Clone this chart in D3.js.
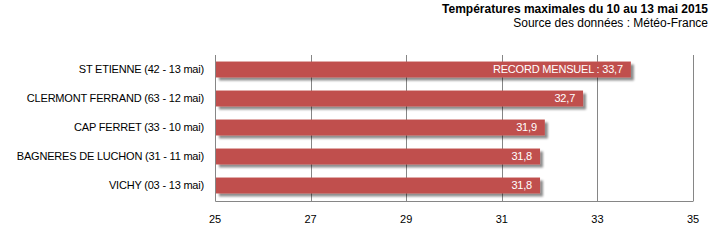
<!DOCTYPE html>
<html>
<head>
<meta charset="utf-8">
<script src="https://cdn.jsdelivr.net/npm/d3@7"></script>
<style>
  body { margin: 0; background: #fff; }
  svg { display: block; font-family: "Liberation Sans", Arial, sans-serif; }
</style>
</head>
<body>
<div id="chart"></div>
<script>
// Data
const stations = [
    'ST ETIENNE (42 - 13 mai)',
    'CLERMONT FERRAND (63 - 12 mai)',
    'CAP FERRET (33 - 10 mai)',
    'BAGNERES DE LUCHON (31 - 11 mai)',
    'VICHY (03 - 13 mai)'
];
const temps = [33.7, 32.7, 31.9, 31.8, 31.8];
const valueLabels = ['RECORD MENSUEL : 33,7', '32,7', '31,9', '31,8', '31,8'];
const xTicks = [25, 27, 29, 31, 33, 35];

const width = 715, height = 241;
const margin = { top: 55, right: 22, bottom: 40, left: 215 };

const svg = d3.select('#chart').append('svg')
    .attr('width', width)
    .attr('height', height);

// Shadow filter for bars
const defs = svg.append('defs');
const filter = defs.append('filter').attr('id', 'shadow')
    .attr('x', '-5%').attr('y', '-30%').attr('width', '115%').attr('height', '180%');
filter.append('feGaussianBlur').attr('in', 'SourceAlpha').attr('stdDeviation', 1.3).attr('result', 'blur');
filter.append('feOffset').attr('in', 'blur').attr('dx', 3).attr('dy', 3).attr('result', 'off');
filter.append('feComponentTransfer').attr('in', 'off').attr('result', 'soft')
    .append('feFuncA').attr('type', 'linear').attr('slope', 0.45);
const merge = filter.append('feMerge');
merge.append('feMergeNode').attr('in', 'soft');
merge.append('feMergeNode').attr('in', 'SourceGraphic');

const x = d3.scaleLinear()
    .domain([25, 35])
    .range([margin.left, width - margin.right]);

const y = d3.scaleBand()
    .domain(stations)
    .range([margin.top, height - margin.bottom - 1])
    .paddingInner(0.45)
    .paddingOuter(0.225);

// Gridlines
svg.append('g')
    .selectAll('line')
    .data(xTicks.slice(1))
    .join('line')
    .attr('x1', d => Math.round(x(d)) + 0.5)
    .attr('x2', d => Math.round(x(d)) + 0.5)
    .attr('y1', margin.top)
    .attr('y2', height - margin.bottom)
    .attr('stroke', '#868686');

// Axis frame (left + bottom)
const bottomY = height - margin.bottom + 0.5;
svg.append('path')
    .attr('d', `M${Math.round(x(25)) + 0.5},${margin.top}V${bottomY}H${Math.round(x(35)) + 0.5}`)
    .attr('fill', 'none')
    .attr('stroke', '#868686');

// Bars
svg.append('g')
    .selectAll('rect')
    .data(stations)
    .join('rect')
    .attr('x', x(25) + 1)
    .attr('y', d => y(d))
    .attr('width', (d, i) => x(temps[i]) - x(25) - 1)
    .attr('height', y.bandwidth())
    .attr('fill', '#c0504d')
    .attr('filter', 'url(#shadow)');

// Value labels inside bars
svg.append('g')
    .selectAll('text')
    .data(stations)
    .join('text')
    .attr('x', (d, i) => x(temps[i]) - 8)
    .attr('y', d => y(d) + y.bandwidth() / 2)
    .attr('dy', '0.35em')
    .attr('text-anchor', 'end')
    .attr('fill', '#fff')
    .attr('font-size', 11)
    .attr('letter-spacing', -0.2)
    .text((d, i) => valueLabels[i]);

// Category labels
svg.append('g')
    .selectAll('text')
    .data(stations)
    .join('text')
    .attr('x', margin.left - 11)
    .attr('y', d => y(d) + y.bandwidth() / 2)
    .attr('dy', '0.35em')
    .attr('text-anchor', 'end')
    .attr('fill', '#000')
    .attr('font-size', 11)
    .attr('letter-spacing', -0.2)
    .text(d => d);

// X tick labels
svg.append('g')
    .selectAll('text')
    .data(xTicks)
    .join('text')
    .attr('x', d => x(d))
    .attr('y', 223)
    .attr('text-anchor', 'middle')
    .attr('fill', '#000')
    .attr('font-size', 11)
    .text(d => d);

// Title
svg.append('text')
    .attr('x', 708)
    .attr('y', 13)
    .attr('text-anchor', 'end')
    .attr('font-size', 12)
    .attr('font-weight', 'bold')
    .text('Températures maximales du 10 au 13 mai 2015');

svg.append('text')
    .attr('x', 708)
    .attr('y', 27)
    .attr('text-anchor', 'end')
    .attr('font-size', 12)
    .text('Source des données : Météo-France');
</script>
</body>
</html>
